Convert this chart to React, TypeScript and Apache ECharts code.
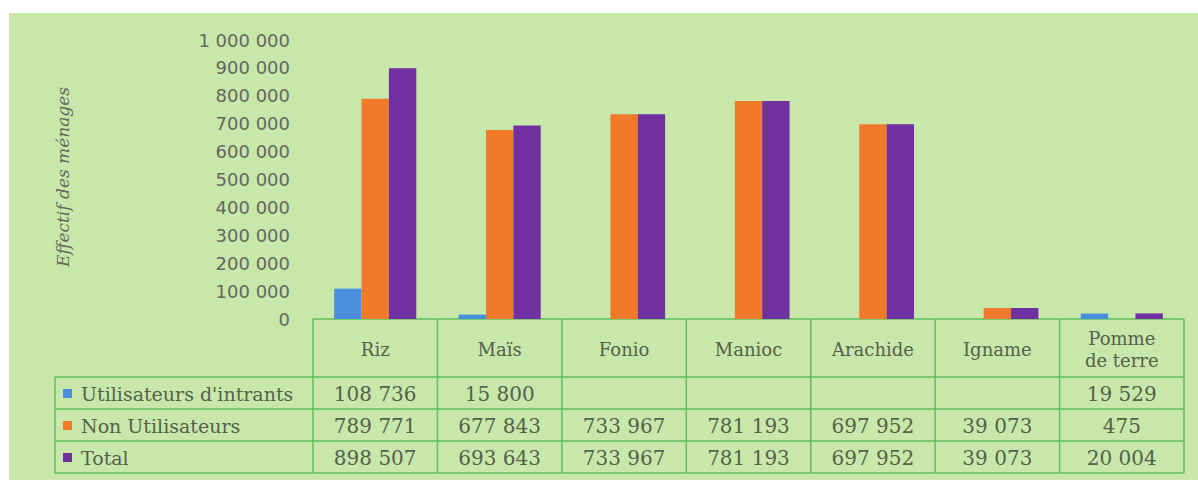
import React, { useEffect, useRef } from "react";
import * as echarts from "echarts";

const categories = ["Riz", "Maïs", "Fonio", "Manioc", "Arachide", "Igname", "Pomme\nde terre"];
const seriesNames = ["Utilisateurs d'intrants", "Non Utilisateurs", "Total"];
const utilisateurs: (number | null)[] = [108736, 15800, null, null, null, null, 19529];
const nonUtilisateurs: (number | null)[] = [789771, 677843, 733967, 781193, 697952, 39073, 475];
const total: (number | null)[] = [898507, 693643, 733967, 781193, 697952, 39073, 20004];
const colors = ["#4a8fdc", "#f07a2a", "#7030a0"];
const yTicks = { min: 0, max: 1000000, interval: 100000 };
const yTitle = "Effectif des ménages";

const W = 1198;
const H = 480;
const gridLeft = 313;
const gridRight = 1184;
const gridTop = 40;
const gridBottom = 319;
const rowYs = [319, 377, 409, 441, 473];
const legendLeft = 55;
const textColor = "#56604a";
const lineColor = "#5cc05c";
const serif = "'DejaVu Serif', serif";

function fmt(n: number | null): string {
  if (n === null || n === undefined) return "";
  return String(n).replace(/\B(?=(\d{3})+(?!\d))/g, " ");
}

export default function App() {
  const ref = useRef<HTMLDivElement>(null);
  useEffect(() => {
    if (!ref.current) return;
    const chart = echarts.init(ref.current, undefined, { renderer: "svg" });
    const colW = (gridRight - gridLeft) / categories.length;
    const dataRows = [utilisateurs, nonUtilisateurs, total];
    const graphics: any[] = [];
    graphics.push({
      type: "rect",
      z: -10,
      silent: true,
      shape: { x: 9, y: 13, width: W - 9, height: H - 13 },
      style: { fill: "#c7e8aa" },
    });
    graphics.push({
      type: "text",
      x: 63,
      y: 177,
      rotation: Math.PI / 2,
      style: {
        text: yTitle,
        fill: "#66665c",
        font: "italic 17px " + serif,
        align: "center",
        verticalAlign: "middle",
      },
    });
    rowYs.forEach((y, i) => {
      graphics.push({
        type: "line",
        shape: { x1: i === 0 ? gridLeft : legendLeft, y1: y, x2: gridRight, y2: y },
        style: { stroke: lineColor, lineWidth: 1.5 },
      });
    });
    for (let c = 0; c <= categories.length; c++) {
      const x = gridLeft + c * colW;
      graphics.push({
        type: "line",
        shape: { x1: x, y1: rowYs[0], x2: x, y2: rowYs[4] },
        style: { stroke: lineColor, lineWidth: 1.5 },
      });
    }
    graphics.push({
      type: "line",
      shape: { x1: legendLeft, y1: rowYs[1], x2: legendLeft, y2: rowYs[4] },
      style: { stroke: lineColor, lineWidth: 1.5 },
    });
    categories.forEach((cat, c) => {
      graphics.push({
        type: "text",
        x: gridLeft + (c + 0.5) * colW,
        y: (rowYs[0] + rowYs[1]) / 2 + 1,
        style: {
          text: cat,
          fill: textColor,
          font: "18px " + serif,
          align: "center",
          verticalAlign: "middle",
          lineHeight: 22,
        },
      });
    });
    dataRows.forEach((row, r) => {
      const yc = (rowYs[r + 1] + rowYs[r + 2]) / 2 + 1;
      graphics.push({
        type: "rect",
        shape: { x: legendLeft + 8, y: yc - 5, width: 9, height: 9 },
        style: { fill: colors[r] },
      });
      graphics.push({
        type: "text",
        x: legendLeft + 26,
        y: yc,
        style: {
          text: seriesNames[r],
          fill: textColor,
          font: "19px " + serif,
          align: "left",
          verticalAlign: "middle",
        },
      });
      row.forEach((v, c) => {
        graphics.push({
          type: "text",
          x: gridLeft + (c + 0.5) * colW,
          y: yc,
          style: {
            text: fmt(v),
            fill: textColor,
            font: "20px " + serif,
            align: "center",
            verticalAlign: "middle",
          },
        });
      });
    });

    chart.setOption({
      animation: false,
      grid: {
        left: gridLeft,
        right: W - gridRight,
        top: gridTop,
        bottom: H - gridBottom,
        containLabel: false,
      },
      xAxis: {
        type: "category",
        data: categories,
        axisLine: { show: false },
        axisTick: { show: false },
        axisLabel: { show: false },
        splitLine: { show: false },
      },
      yAxis: {
        type: "value",
        min: yTicks.min,
        max: yTicks.max,
        interval: yTicks.interval,
        axisLine: { show: false },
        axisTick: { show: false },
        splitLine: { show: false },
        axisLabel: {
          margin: 23,
          color: "#66665e",
          fontFamily: "'DejaVu Sans', sans-serif",
          fontSize: 18,
          formatter: (v: number) => fmt(v),
        },
      },
      series: [utilisateurs, nonUtilisateurs, total].map((d, i) => ({
        type: "bar",
        name: seriesNames[i],
        data: d,
        itemStyle: { color: colors[i] },
        barGap: "0%",
        barCategoryGap: "34%",
      })),
      graphic: graphics,
    });
    return () => chart.dispose();
  }, []);
  return (
    <div
      ref={ref}
      style={{ position: "absolute", left: 0, top: 0, width: W, height: H }}
    />
  );
}
